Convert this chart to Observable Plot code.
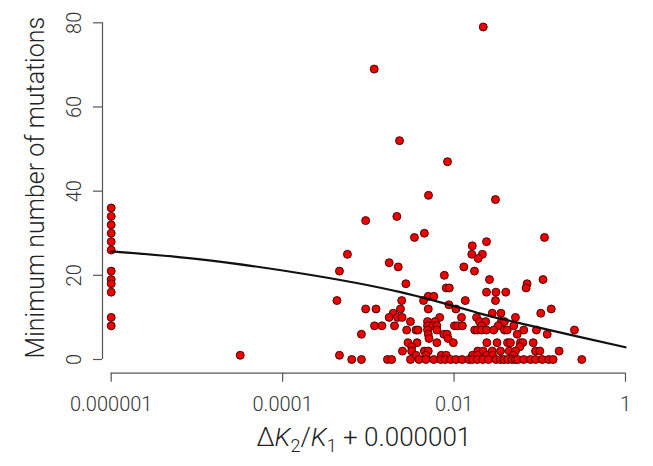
<!DOCTYPE html>
<html><head><meta charset="utf-8">
<script src="https://cdn.jsdelivr.net/npm/d3@7"></script>
<script src="https://cdn.jsdelivr.net/npm/@observablehq/plot@0.6"></script>
<style>
html,body{margin:0;padding:0;background:#fff}
</style></head><body><div id="chart"></div>
<script>
// ΔK2/K1 + 0.000001 (x) and minimum number of mutations (y)
const ratio = [
  0.000001,0.000001,0.000001,0.000001,0.000001,0.000001,0.000001,0.000001,0.000001,0.000001,0.000001,0.000001,
  0.0219, 0.00117, 0.00231, 0.00838, 0.00503, 0.0304, 0.00215, 0.00093, 0.0045,
  0.00345, 0.1135,
  0.0239, 0.0163,
  0.00057, 0.0161, 0.0214,
  0.0191, 0.00175,
  0.00223, 0.013,
  0.00046, 0.0173,
  0.0077,
  0.0259, 0.109,
  0.00274, 0.0711,
  0.0081, 0.0088, 0.0693,
  0.0239, 0.0308, 0.0401,
  0.005, 0.0058,
  0.00043, 0.00245, 0.0044, 0.0135, 0.0304,
  0.0087,
  0.00093, 0.00123, 0.00237, 0.005, 0.0105, 0.136,
  0.00195, 0.0279, 0.0352, 0.1027,
  0.00175, 0.00219, 0.00248, 0.0068, 0.0122, 0.0183, 0.052,
  0.0031, 0.0049, 0.006, 0.0198, 0.0234, 0.0356, 0.0387,
  0.00118, 0.00144, 0.00202, 0.0049, 0.0057, 0.0063, 0.0101, 0.011, 0.0125, 0.0209, 0.0327, 0.0497,
  0.0028, 0.0036, 0.0038, 0.0049, 0.0063, 0.0174, 0.0187, 0.0209, 0.0239, 0.029, 0.0387, 0.0417, 0.065, 0.0914, 0.254,
  0.00083, 0.005, 0.0076, 0.0083, 0.0545, 0.122,
  0.0051, 0.0085,
  0.0029, 0.0037, 0.0063, 0.0098, 0.0241, 0.0317, 0.042, 0.0455, 0.0594, 0.0634, 0.0838,
  0.0032, 0.0585,
  0.0025, 0.0032, 0.0045, 0.005, 0.0189, 0.0219, 0.0279, 0.0348, 0.044, 0.052, 0.0891, 0.1, 0.168,
  0.000032, 0.00046, 0.0036, 0.0047, 0.0071, 0.0081, 0.0164, 0.0187, 0.0239, 0.0281, 0.0493,
  0.00064, 0.00083, 0.00167, 0.00187, 0.0031, 0.0039, 0.0047, 0.0058, 0.007, 0.0079, 0.0091, 0.0105, 0.0124, 0.0149, 0.0164, 0.0187,
  0.0217, 0.0252, 0.0308, 0.0348, 0.0382, 0.0423, 0.0476, 0.052, 0.0553, 0.065, 0.078, 0.0891, 0.107, 0.127, 0.143, 0.309
];
const mutations = [
  36,34,32,30,28,26,21,19,18,16,10,8,
  79, 69, 52, 47, 39, 38, 34, 33, 30,
  29, 29,
  28, 27,
  25, 25, 25,
  24, 23,
  22, 22,
  21, 21,
  20,
  19, 19,
  18, 18,
  17, 17, 17,
  16, 16, 16,
  15, 15,
  14, 14, 14, 14, 14,
  13,
  12, 12, 12, 12, 12, 12,
  11, 11, 11, 11,
  10, 10, 10, 10, 10, 10, 10,
  9, 9, 9, 9, 9, 9, 9,
  8, 8, 8, 8, 8, 8, 8, 8, 8, 8, 8, 8,
  7, 7, 7, 7, 7, 7, 7, 7, 7, 7, 7, 7, 7, 7, 7,
  6, 6, 6, 6, 6, 6,
  5, 5,
  4, 4, 4, 4, 4, 4, 4, 4, 4, 4, 4,
  3, 3,
  2, 2, 2, 2, 2, 2, 2, 2, 2, 2, 2, 2, 2,
  1, 1, 1, 1, 1, 1, 1, 1, 1, 1, 1,
  0, 0, 0, 0, 0, 0, 0, 0, 0, 0, 0, 0, 0, 0, 0, 0,
  0, 0, 0, 0, 0, 0, 0, 0, 0, 0, 0, 0, 0, 0, 0, 0
];
// fitted curve
const curveRatio = [0.000001, 0.000011, 0.00016, 0.00237, 0.0203, 0.0348, 0.0596, 0.298, 1];
const curveMutations = [25.7, 23.8, 20.5, 16.0, 10.9, 9.7, 8.6, 5.3, 2.9];

const xTicks = [0.000001, 0.0001, 0.01, 1];
const xTickLabels = ["0.000001", "0.0001", "0.01", "1"];
const yTicks = [0, 20, 40, 60, 80];

const W = 653, H = 466;
const mL = 102, iL = 8.7, mR = 28, mT = 22.3, mB = 93.3, iB = 13.7;
const font = "Roboto, 'Liberation Sans', sans-serif";
const axisColor = "#555", textColor = "#333";

const points = ratio.map((x, i) => ({x, y: mutations[i]}));
const curve = curveRatio.map((x, i) => ({x, y: curveMutations[i]}));

const svg = Plot.plot({
  width: W, height: H,
  marginLeft: mL, marginRight: mR, marginTop: mT, marginBottom: mB,
  insetLeft: iL, insetBottom: iB, insetTop: 0, insetRight: 0,
  style: {fontFamily: font, background: "white", fontWeight: 300},
  x: {type: "log", domain: [xTicks[0], xTicks[xTicks.length - 1]]},
  y: {domain: [yTicks[0], yTicks[yTicks.length - 1]]},
  marks: [
    Plot.ruleX([xTicks[0]], {y1: yTicks[0], y2: yTicks[yTicks.length - 1], dx: -iL, stroke: axisColor, strokeWidth: 1.2}),
    Plot.ruleY([yTicks[0]], {x1: xTicks[0], x2: xTicks[xTicks.length - 1], dy: iB, stroke: axisColor, strokeWidth: 1.2}),
    Plot.axisX({ticks: xTicks, tickFormat: d => xTickLabels[xTicks.indexOf(d)], tickSize: 9, tickPadding: 15,
      fontSize: 20, label: null, stroke: axisColor, strokeWidth: 1.2, fill: textColor}),
    Plot.axisY({ticks: yTicks, tickFormat: () => "", tickSize: 9, label: null, stroke: axisColor, strokeWidth: 1.2}),
    Plot.text(yTicks, {y: d => d, text: d => String(d), frameAnchor: "left", dx: -22, rotate: -90,
      textAnchor: "middle", lineAnchor: "bottom", fontSize: 20, fill: textColor}),
    Plot.dot(points, {x: "x", y: "y", r: 4, fill: "#ee0000", stroke: "#3a0000", strokeWidth: 0.9}),
    Plot.line(curve, {x: "x", y: "y", curve: "natural", stroke: "#111", strokeWidth: 2.2})
  ]
});

const s = d3.select(svg);
const cx = (mL + iL + (W - mR)) / 2 - 4;
const t = s.append("text").attr("x", cx).attr("y", H - mB + 73)
  .attr("text-anchor", "middle").attr("fill", "#222")
  .style("font-size", "26px").style("font-family", font).style("font-weight", 300).style("white-space", "pre");
t.append("tspan").text("Δ");
t.append("tspan").attr("font-style", "italic").text("K");
t.append("tspan").attr("font-size", "18px").attr("dy", 6).text("2");
t.append("tspan").attr("dy", -6).text("/");
t.append("tspan").attr("font-style", "italic").text("K");
t.append("tspan").attr("font-size", "18px").attr("dy", 6).text("1");
t.append("tspan").attr("dy", -6).text(" + 0.000001");

s.append("text")
  .attr("transform", `translate(44,${(mT + (H - mB - iB)) / 2 - 3}) rotate(-90)`)
  .attr("text-anchor", "middle").attr("fill", "#222")
  .style("font-size", "25px").style("font-family", font).style("font-weight", 300)
  .text("Minimum number of mutations");

document.getElementById("chart").appendChild(svg);
</script>
</body></html>
